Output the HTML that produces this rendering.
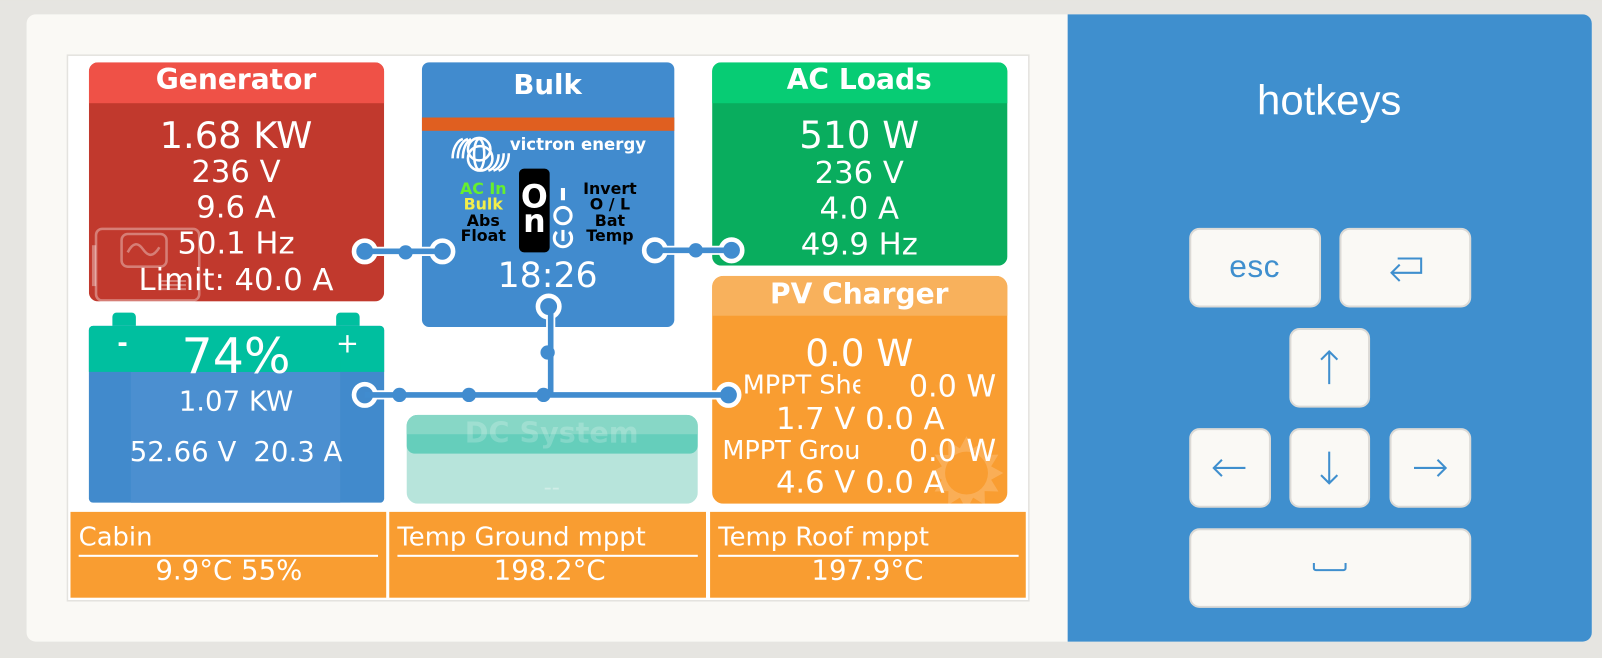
<!DOCTYPE html>
<html><head><meta charset="utf-8"><style>
html,body{margin:0;padding:0;background:#e6e5e1;width:1602px;height:658px;overflow:hidden}
svg{display:block}
text{font-family:"DejaVu Sans",sans-serif;fill:#fff}
.m{text-anchor:middle}
.b{font-weight:bold}
.blk{fill:#000;font-weight:bold;font-size:15.500px;text-anchor:middle}
.key{fill:#faf9f5;stroke:#dcdad6;stroke-width:2}
.ar{fill:none;stroke:#3f8fce;stroke-width:2}
</style></head><body>
<svg width="1602" height="658" viewBox="0 0 1568 644" xmlns="http://www.w3.org/2000/svg">
<defs>
<clipPath id="g"><rect x="87" y="61" width="289" height="234" rx="9"/></clipPath>
<clipPath id="a"><rect x="697" y="61" width="289" height="199" rx="9"/></clipPath>
<clipPath id="p"><rect x="697" y="270" width="289" height="223" rx="11"/></clipPath>
<clipPath id="d"><rect x="398" y="406" width="285" height="87" rx="11"/></clipPath>
<clipPath id="c"><rect x="690" y="360" width="152" height="120"/></clipPath>
</defs>
<rect width="1568" height="644" fill="#e6e5e1"/>
<rect x="26" y="14" width="1532" height="614" rx="9" fill="#faf9f5"/>
<path d="M1045 14H1549a9 9 0 0 1 9 9V619a9 9 0 0 1-9 9H1045Z" fill="#3f8fce"/>
<rect x="66" y="54" width="941" height="534" fill="#fff" stroke="#e4e3df" stroke-width="1.5"/>

<!-- Generator -->
<g clip-path="url(#g)"><rect x="87" y="61" width="289" height="234" fill="#c1392d"/><rect x="87" y="61" width="289" height="40" fill="#ef5147"/></g>
<text class="m b" x="231" y="87" font-size="27.500">Generator</text>
<text class="m" x="231" y="145" font-size="36">1.68 KW</text>
<text class="m" x="231" y="178" font-size="30">236 V</text>
<text class="m" x="231" y="213" font-size="30">9.6 A</text>
<text class="m" x="231" y="248" font-size="30">50.1 Hz</text>
<text class="m" x="231" y="284" font-size="30">Limit: 40.0 A</text>
<g fill="none" stroke="#fff" stroke-opacity=".35" stroke-width="2.500">
<rect x="94" y="224" width="101" height="70" rx="6"/>
<rect x="119" y="229" width="44" height="32" rx="6"/>
<path d="M125 247c5-10 10-10 15-3s10 8 16-2"/>
<path d="M158 275h24M158 279h24M158 283h24" stroke-width="2"/>
</g>
<rect x="90" y="240" width="4" height="40" fill="#fff" fill-opacity=".35"/>
<rect x="107" y="295" width="20" height="2" fill="#fff" fill-opacity=".35"/>
<rect x="168" y="295" width="20" height="2" fill="#fff" fill-opacity=".35"/>

<!-- Multi -->
<rect x="413" y="61" width="247" height="259" rx="7" fill="#418bce"/>
<rect x="413" y="115" width="247" height="13" fill="#e05f20"/>
<text class="m b" x="536" y="92" font-size="27">Bulk</text>
<g fill="none" stroke="#fff" stroke-width="2.500">
<ellipse cx="469" cy="146" rx="11" ry="11"/>
<ellipse cx="470" cy="155" rx="12" ry="12"/>
<ellipse cx="469" cy="151" rx="5" ry="15"/>
<path d="M443 155C443 146 447 138 453 136M448 155C448 146 452 138 458 136M453 155C453 146 456 139 461 136"/>
<path d="M498 150C498 159 494 165 488 167M493 150C493 159 489 165 483 167M488 151C488 159 484 165 478 167"/>
</g>
<text x="499" y="147" font-size="16.200" font-weight="bold">victron energy</text>
<rect x="508" y="165" width="30" height="82" rx="5" fill="#000"/>
<text class="m b" x="523" y="203" font-size="31">O</text>
<text class="m b" x="523" y="227" font-size="31">n</text>
<rect x="549" y="184" width="4" height="12" fill="#fff"/>
<circle cx="551" cy="211" r="8" fill="none" stroke="#fff" stroke-width="3"/>
<path d="M545 227a8.500 8.500 0 1 0 12 0" fill="none" stroke="#fff" stroke-width="3"/>
<rect x="549.500" y="225" width="3" height="11" fill="#fff"/>
<text class="blk" x="473" y="190" style="fill:#66ef2e">AC In</text>
<text class="blk" x="473" y="205" style="fill:#f2ee4a">Bulk</text>
<text class="blk" x="473" y="221">Abs</text>
<text class="blk" x="473" y="236">Float</text>
<text class="blk" x="597" y="190">Invert</text>
<text class="blk" x="597" y="205">O / L</text>
<text class="blk" x="597" y="221">Bat</text>
<text class="blk" x="597" y="236">Temp</text>
<text class="m" x="536" y="281" font-size="34">18:26</text>

<!-- AC Loads -->
<g clip-path="url(#a)"><rect x="697" y="61" width="289" height="199" fill="#09ad5e"/><rect x="697" y="61" width="289" height="40" fill="#07cc74"/></g>
<text class="m b" x="841" y="87" font-size="27.500">AC Loads</text>
<text class="m" x="841" y="145" font-size="36.500">510 W</text>
<text class="m" x="841" y="179" font-size="30">236 V</text>
<text class="m" x="841" y="214" font-size="30">4.0 A</text>
<text class="m" x="841" y="249" font-size="30">49.9 Hz</text>

<!-- PV Charger -->
<g clip-path="url(#p)"><rect x="697" y="270" width="289" height="223" fill="#f99d31"/><rect x="697" y="270" width="289" height="39" fill="#f8b15c"/>
<path fill="#fff" fill-opacity=".18" d="M982 463L970.100 469.500L977.200 481L963.700 480.700L964 494.200L952.500 487.100L946 499L939.500 487.100L928 494.200L928.300 480.700L914.800 481L921.900 469.500L910 463L921.900 456.500L914.800 445L928.300 445.300L928 431.800L939.500 438.900L946 427L952.500 438.900L964 431.800L963.700 445.300L977.200 445L970.100 456.500Z"/>
<circle cx="946" cy="463" r="21" fill="#f99d31"/>
</g>
<text class="m b" x="841" y="297" font-size="27.500">PV Charger</text>
<text class="m" x="841" y="358" font-size="36.500">0.0 W</text>
<g clip-path="url(#c)">
<text x="727" y="385" font-size="25">MPPT Shed</text>
<text x="707" y="449" font-size="25">MPPT Ground</text>
</g>
<text x="975" y="388" font-size="29.500" text-anchor="end">0.0 W</text>
<text x="975" y="451" font-size="29.500" text-anchor="end">0.0 W</text>
<text class="m" x="842" y="420" font-size="30">1.7 V 0.0 A</text>
<text class="m" x="842" y="482" font-size="30">4.6 V 0.0 A</text>

<!-- Battery -->
<path d="M110 319v-9a4 4 0 0 1 4-4h15a4 4 0 0 1 4 4v9ZM329 319v-9a4 4 0 0 1 4-4h15a4 4 0 0 1 4 4v9Z" fill="#00bf9f"/>
<rect x="87" y="319" width="289" height="173" rx="4" fill="#418acc"/>
<path d="M91 319H372a4 4 0 0 1 4 4V364H87V323a4 4 0 0 1 4-4Z" fill="#00bf9f"/>
<rect x="128" y="364" width="205" height="128" fill="#4b8fd0"/>
<rect x="128" y="319" width="205" height="45" fill="#00bf9f"/>
<text class="m b" x="120" y="344" font-size="25">-</text>
<text class="m" x="340" y="345" font-size="27">+</text>
<text class="m" x="231" y="365" font-size="48">74%</text>
<text class="m" x="231" y="402" font-size="27">1.07 KW</text>
<text x="127" y="451" font-size="27">52.66 V</text>
<text x="248" y="451" font-size="27">20.3 A</text>

<!-- DC System -->
<g clip-path="url(#d)"><rect x="398" y="406" width="285" height="87" fill="#b7e4db"/>
<rect x="398" y="406" width="285" height="38" rx="8" fill="#65cebb"/>
<rect x="398" y="406" width="285" height="19" fill="#87d7c6"/></g>
<text class="m b" x="540" y="433" font-size="28" fill-opacity=".2">DC System</text>
<text class="m" x="540" y="484" font-size="22" fill-opacity=".35">--</text>

<!-- Tiles -->
<g fill="#f99d31">
<rect x="69" y="501" width="309" height="84"/>
<rect x="381" y="501" width="310" height="84"/>
<rect x="695" y="501" width="309" height="84"/>
</g>
<text x="77" y="534" font-size="25.300">Cabin</text>
<text x="389" y="534" font-size="25.300">Temp Ground mppt</text>
<text x="703" y="534" font-size="25.300">Temp Roof mppt</text>
<g fill="#fff"><rect x="77" y="543" width="293" height="2"/><rect x="389" y="543" width="294" height="2"/><rect x="703" y="543" width="294" height="2"/></g>
<text class="m" x="224" y="567" font-size="27">9.9°C 55%</text>
<text class="m" x="538" y="567" font-size="27">198.2°C</text>
<text class="m" x="849" y="567" font-size="27">197.9°C</text>

<!-- Connectors -->
<g fill="none" stroke="#fff" stroke-width="9">
<path d="M357 246H433M641 245H716M539 300V386.500M357 386.500H713"/>
</g>
<g stroke="#fff" stroke-width="4.500">
<circle cx="357" cy="246" r="10.500" fill="#418ccf"/>
<circle cx="433" cy="246" r="10.500" fill="#418bce"/>
<circle cx="641" cy="245" r="10.500" fill="#418bce"/>
<circle cx="716" cy="245" r="10.500" fill="#418ccf"/>
<circle cx="537" cy="300" r="10.500" fill="#418bce"/>
<circle cx="357" cy="386.500" r="10.500" fill="#418acc"/>
<circle cx="713" cy="386.500" r="10.500" fill="#418ccf"/>
</g>
<g fill="none" stroke="#418ccf" stroke-width="5.500">
<path d="M357 246H433M641 245H716M539 300V386.500M357 386.500H713"/>
</g>
<g fill="#418ccf">
<circle cx="397" cy="247" r="7"/><circle cx="681" cy="245" r="7"/>
<circle cx="536" cy="345" r="7"/>
<circle cx="391" cy="386.500" r="7"/><circle cx="459" cy="386.500" r="7"/><circle cx="532" cy="386.500" r="7"/>
</g>

<!-- Hotkeys -->
<text class="m" x="1301" y="112" font-size="41" style="font-family:'Liberation Sans',sans-serif">hotkeys</text>
<rect class="key" x="1165" y="224" width="127" height="76" rx="9"/>
<rect class="key" x="1312" y="224" width="127" height="76" rx="9"/>
<rect class="key" x="1263" y="322" width="77" height="76" rx="9"/>
<rect class="key" x="1165" y="420" width="78" height="76" rx="9"/>
<rect class="key" x="1263" y="420" width="77" height="76" rx="9"/>
<rect class="key" x="1361" y="420" width="78" height="76" rx="9"/>
<rect class="key" x="1165" y="518" width="274" height="76" rx="9"/>
<text class="m" x="1228" y="271" font-size="31" letter-spacing="0.500" style="font-family:'Liberation Sans',sans-serif;fill:#3f8fce">esc</text>
<path class="ar" d="M1362 267H1391V253H1368M1370 259L1362 267L1370 275"/>
<path class="ar" d="M1301 376V344M1293 352L1301 344L1309 352"/>
<path class="ar" d="M1219 458H1188M1196 450L1188 458L1196 466"/>
<path class="ar" d="M1301 442V473M1293 465L1301 473L1309 465"/>
<path class="ar" d="M1384 458H1415M1407 450L1415 458L1407 466"/>
<path class="ar" d="M1286 551v5a2 2 0 0 0 2 2h27a2 2 0 0 0 2-2v-5"/>
</svg>
</body></html>
